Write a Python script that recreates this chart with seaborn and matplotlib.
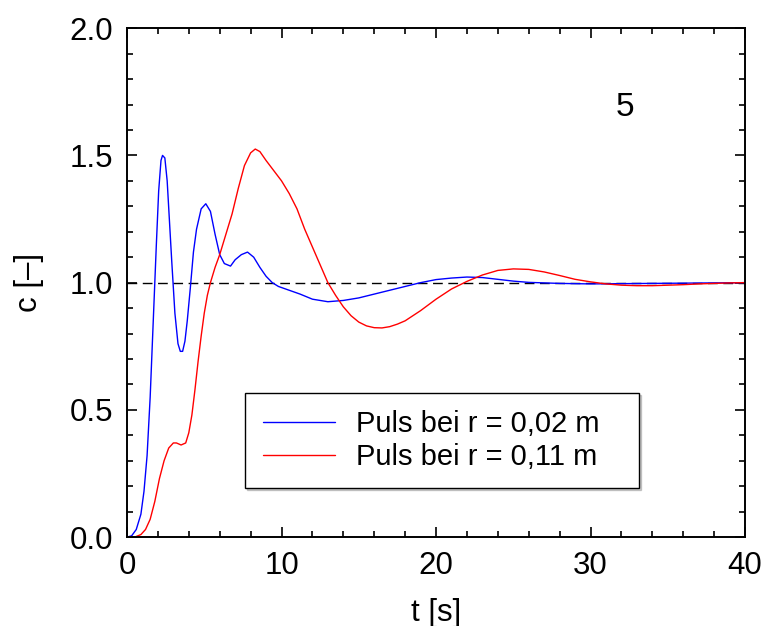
"""Tracer response curves c(t) at two radial positions."""

import matplotlib
matplotlib.use("Agg")
import matplotlib.pyplot as plt
import pandas as pd
import seaborn as sns
from matplotlib.ticker import MultipleLocator

# blue: pulse at r = 0,02 m
T_INNER = [0, 0.3, 0.6, 0.9, 1.1, 1.3, 1.5, 1.7, 1.9, 2.05, 2.2, 2.3, 2.45, 2.6, 2.75,
           2.9, 3.1, 3.3, 3.45, 3.6, 3.75, 3.9, 4.1, 4.3, 4.5, 4.8, 5.1, 5.4, 5.7,
           6.0, 6.3, 6.7, 7.0, 7.4, 7.8, 8.2, 8.6, 9.0, 9.4, 9.8, 10.5, 11.2, 12,
           13, 14, 15, 16, 17, 18, 19, 20, 21, 22, 23, 24, 25, 26, 28, 30, 32, 34,
           36, 38, 40]
C_INNER = [0, 0.005, 0.03, 0.09, 0.18, 0.32, 0.55, 0.85, 1.15, 1.36, 1.48, 1.50, 1.49,
           1.40, 1.24, 1.08, 0.88, 0.76, 0.73, 0.73, 0.77, 0.85, 0.98, 1.12, 1.21,
           1.29, 1.31, 1.28, 1.19, 1.11, 1.075, 1.065, 1.09, 1.11, 1.12, 1.10, 1.06,
           1.025, 1.0, 0.985, 0.97, 0.955, 0.935, 0.925, 0.93, 0.94, 0.955, 0.97,
           0.985, 1.0, 1.012, 1.018, 1.022, 1.02, 1.013, 1.006, 1.001, 0.997, 0.995,
           0.996, 0.997, 0.998, 0.999, 1.0]

# red: pulse at r = 0,11 m
T_OUTER = [0, 0.5, 0.9, 1.2, 1.5, 1.8, 2.1, 2.4, 2.7, 3.0, 3.2, 3.5, 3.8, 4.0, 4.2,
           4.4, 4.6, 4.8, 5.0, 5.2, 5.4, 5.7, 6.0, 6.4, 6.8, 7.2, 7.6, 8.0, 8.3, 8.6,
           9.0, 9.5, 10.0, 10.5, 11.0, 11.5, 12.0, 12.5, 13.0, 13.5, 14.0, 14.5, 15.0,
           15.5, 16.0, 16.5, 17.0, 17.5, 18.0, 19.0, 20.0, 21.0, 22.0, 23.0, 24.0,
           25.0, 26.0, 27.0, 28.0, 29.0, 30.0, 31.0, 32.0, 33.0, 34.0, 35.0, 36.0,
           37.0, 38.0, 39.0, 40.0]
C_OUTER = [0, 0.0, 0.01, 0.03, 0.07, 0.14, 0.23, 0.30, 0.35, 0.37, 0.37, 0.362, 0.37,
           0.41, 0.48, 0.58, 0.69, 0.79, 0.88, 0.95, 1.0, 1.06, 1.11, 1.19, 1.27,
           1.37, 1.46, 1.51, 1.525, 1.515, 1.48, 1.44, 1.40, 1.35, 1.29, 1.21, 1.14,
           1.07, 1.00, 0.95, 0.905, 0.87, 0.845, 0.83, 0.823, 0.822, 0.827, 0.837,
           0.85, 0.89, 0.935, 0.975, 1.005, 1.03, 1.048, 1.054, 1.052, 1.042, 1.028,
           1.013, 1.003, 0.995, 0.99, 0.988, 0.988, 0.99, 0.992, 0.995, 0.997, 0.999,
           1.0]

LABELS = ["Puls bei r = 0,02 m", "Puls bei r = 0,11 m"]
PALETTE = {LABELS[0]: "#0000ff", LABELS[1]: "#ff0000"}
PANEL_LABEL = "5"


def build_frame() -> pd.DataFrame:
    inner = pd.DataFrame({"t": T_INNER, "c": C_INNER, "series": LABELS[0]})
    outer = pd.DataFrame({"t": T_OUTER, "c": C_OUTER, "series": LABELS[1]})
    return pd.concat([inner, outer], ignore_index=True)


def main() -> None:
    sns.set_theme(style="ticks")
    plt.rcParams["font.family"] = ["Liberation Sans", "DejaVu Sans"]
    plt.rcParams["text.color"] = "black"
    plt.rcParams["axes.labelcolor"] = "black"
    df = build_frame()

    fig = plt.figure(figsize=(7.65, 6.26), dpi=100)
    ax = fig.add_axes([0.166, 0.142, 0.808, 0.813])

    ax.axhline(1.0, color="black", lw=1.0, ls=(0, (7, 4)), zorder=1)
    sns.lineplot(data=df, x="t", y="c", hue="series", palette=PALETTE,
                 hue_order=LABELS, linewidth=1.0, sort=False, ax=ax, zorder=2)

    ax.set_xlim(0, 40)
    ax.set_ylim(0, 2.0)
    ax.xaxis.set_major_locator(MultipleLocator(10))
    ax.xaxis.set_minor_locator(MultipleLocator(2))
    ax.yaxis.set_major_locator(MultipleLocator(0.5))
    ax.yaxis.set_minor_locator(MultipleLocator(0.1))
    ax.tick_params(which="both", direction="in", top=True, right=True,
                   labelsize=22.5, colors="black", width=1.2, pad=10)
    ax.tick_params(which="major", length=7)
    ax.tick_params(which="minor", length=4)
    for spine in ax.spines.values():
        spine.set_visible(True)
        spine.set_linewidth(1.4)
        spine.set_color("black")

    ax.set_xlabel("t [s]", fontsize=22.5, labelpad=12)
    ax.set_ylabel("c [–]", fontsize=22.5, labelpad=18)
    ax.text(32.2, 1.69, PANEL_LABEL, fontsize=24, ha="center", va="center")

    leg = ax.legend(loc="lower left", bbox_to_anchor=(0.191, 0.096, 0.638, 0.185),
                    mode="expand", borderaxespad=0, fontsize=21, frameon=True,
                    fancybox=False, shadow={"ox": 1.5, "oy": -1.5, "color": "0.6"},
                    handlelength=2.5, handletextpad=0.7, borderpad=0.6,
                    labelspacing=0.15)
    leg.get_frame().set_edgecolor("black")
    leg.get_frame().set_linewidth(1.0)
    for text in leg.get_texts():
        text.set_color("black")

    fig.savefig("out.png", dpi=100)
    plt.close(fig)


if __name__ == "__main__":
    main()
